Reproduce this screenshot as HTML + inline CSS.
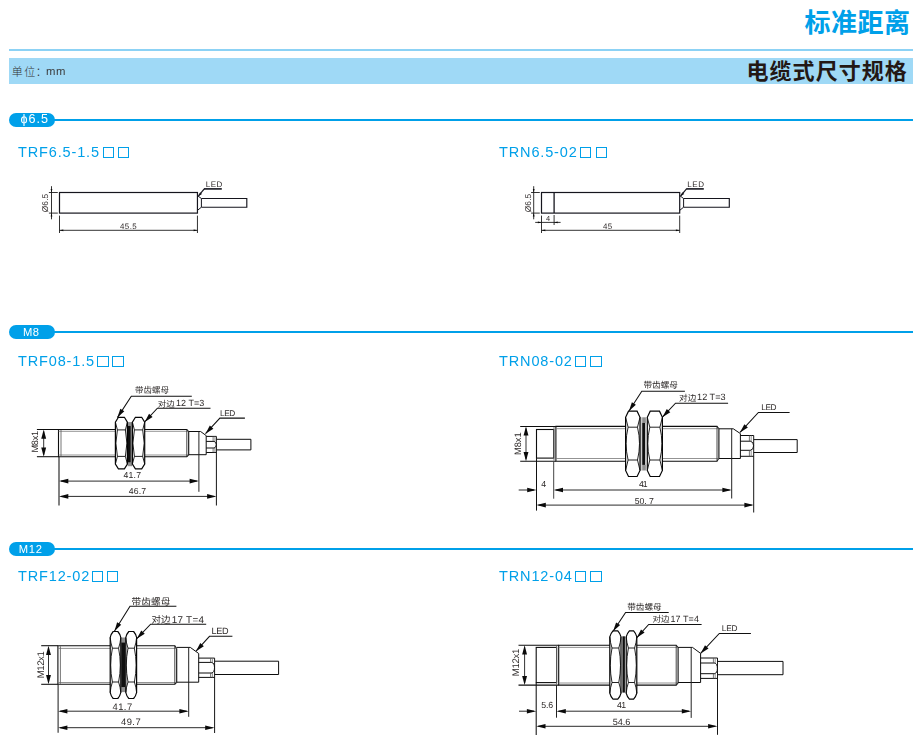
<!DOCTYPE html>
<html lang="zh-CN">
<head>
<meta charset="utf-8">
<title>标准距离 电缆式尺寸规格</title>
<style>
html,body{margin:0;padding:0;background:#fff}
body{width:921px;height:752px;position:relative;overflow:hidden;font-family:"Liberation Sans",sans-serif;color:#231815}
svg{position:absolute;overflow:visible;display:block}
.dwg{will-change:transform}
.dwg text{text-rendering:geometricPrecision}
.rule{position:absolute;left:9px;width:904px;top:49px;height:2px;background:#8CD2F5}
.band{position:absolute;left:9px;width:904px;top:58px;height:26px;background:#9FD9F6}
.unit-mm{will-change:transform;position:absolute;left:46.4px;top:64.4px;font-size:11.3px;line-height:14px;letter-spacing:.7px;color:#3a3a3a}
.sec{position:absolute;left:9.6px;right:8px;height:14.2px}
.sec::after{content:"";position:absolute;left:40px;right:0;top:6px;height:2px;background:#00A0E9}
.sec b{position:absolute;left:0;top:0;width:46px;height:14.2px;border-radius:7.1px;background:#00A0E9;color:#fff;
  font-weight:normal;font-size:11.2px;line-height:14.4px;text-align:center;letter-spacing:.35px;z-index:1;will-change:transform}
.sec b.phi{font-size:12.6px;line-height:13px;letter-spacing:1.05px;text-indent:5.6px}
.model{position:absolute;height:16px;font-size:14.5px;line-height:16.6px;letter-spacing:.86px;color:#00A0E9;white-space:nowrap;will-change:transform}
.model i{position:absolute;top:2.55px;width:11.4px;height:11.4px;box-sizing:border-box;border:1.1px solid #00A0E9}
</style>
</head>
<body>
<header>
<svg class="cjk" role="img" aria-label="标准距离" style="left:803px;top:7px" width="110" height="30" viewBox="803 7 110 30"><text x="804.5" y="31.5" font-size="26" font-weight="bold" textLength="105.5" lengthAdjust="spacing" font-family="'Liberation Sans', 'Noto Sans CJK SC', sans-serif" fill="#00A0E9">标准距离</text></svg>
<div class="rule"></div>
<div class="band"></div>
<svg class="cjk" role="img" aria-label="单位" style="left:10px;top:64px" width="27" height="16" viewBox="10 64 27 16"><text x="11.8" y="75.7" font-size="11" font-weight="300" textLength="23.5" lengthAdjust="spacing" font-family="'Liberation Sans', 'Noto Sans CJK SC', sans-serif" fill="#333">单位</text></svg><svg class="cjk" aria-hidden="true" style="left:36px;top:71px" width="4" height="6" viewBox="36 71 4 6"><text x="35.8" y="75.7" font-size="11" font-weight="300" font-family="'Liberation Sans', 'Noto Sans CJK SC', sans-serif" fill="#333">：</text></svg><span class="unit-mm">mm</span>
<svg class="cjk" role="img" aria-label="电缆式尺寸规格" style="left:745px;top:59px" width="164" height="25" viewBox="745 59 164 25"><text x="746.5" y="79.3" font-size="22" font-weight="bold" textLength="160.3" lengthAdjust="spacing" font-family="'Liberation Sans', 'Noto Sans CJK SC', sans-serif" fill="#231815">电缆式尺寸规格</text></svg>
</header>
<main>
<section>
<div class="sec" style="top:112.8px;left:9.4px"><b class="phi">&#981;6.5</b></div>
<div class="model" style="left:17.8px;top:144px">TRF6.5-1.5<i style="left:84.8px"></i><i style="left:100.1px"></i></div>
<div class="model" style="left:499.4px;top:144px">TRN6.5-02<i style="left:81.1px"></i><i style="left:96.8px"></i></div>
<svg class="dwg" role="img" aria-label="TRF6.5-1.5 dimension drawing" style="left:25px;top:175px" width="240" height="65" viewBox="25 175 240 65" font-family="Liberation Sans, sans-serif"><rect x="59.5" y="192.5" width="137.95" height="20.6" fill="none" stroke="#15151d" stroke-width="1.2"/><path d="M197.45 195.6 L201.4 198.5 L201.4 207.2 L197.45 210.4" fill="none" stroke="#15151d" stroke-width="1.0" stroke-linejoin="miter"/><path d="M201.4 198.5 L246.8 198.5 L246.8 207.2 L201.4 207.2" fill="none" stroke="#15151d" stroke-width="1.15" stroke-linejoin="miter"/><line x1="204" y1="188.9" x2="221.8" y2="188.9" stroke="#15151d" stroke-width="1.6"/><line x1="198.45" y1="195.9" x2="204.3" y2="188.9" stroke="#15151d" stroke-width="1.2"/><path d="M198.05 196.4 L200.08 192.29 L201.99 194.05 Z" fill="#15151d"/><text x="205.7" y="186.9" font-size="8" textLength="16.7" lengthAdjust="spacing" fill="#2f2a2a">LED</text><line x1="51.5" y1="186.2" x2="51.5" y2="219.3" stroke="#1c1c1c" stroke-width="0.9"/><line x1="48.9" y1="192.5" x2="57.8" y2="192.5" stroke="#1c1c1c" stroke-width="0.9"/><line x1="48.9" y1="213.1" x2="57.8" y2="213.1" stroke="#1c1c1c" stroke-width="0.9"/><path d="M51.5 192.5 L50.6 189.1 L52.4 189.1 Z" fill="#0a0a0a"/><path d="M51.5 213.1 L52.4 216.5 L50.6 216.5 Z" fill="#0a0a0a"/><text x="48" y="203" font-size="8.4" text-anchor="middle" textLength="18.6" lengthAdjust="spacing" transform="rotate(-90 48 203)" fill="#2f2a2a">&#216;6.5</text><line x1="59.5" y1="215.6" x2="59.5" y2="233" stroke="#1c1c1c" stroke-width="0.9"/><line x1="197.45" y1="215.6" x2="197.45" y2="233" stroke="#1c1c1c" stroke-width="0.9"/><line x1="59.5" y1="230.3" x2="197.45" y2="230.3" stroke="#1c1c1c" stroke-width="0.9"/><path d="M59.5 230.3 L63.3 229.4 L63.3 231.2 Z" fill="#0a0a0a"/><path d="M197.45 230.3 L193.65 231.2 L193.65 229.4 Z" fill="#0a0a0a"/><text x="128.3" y="228.9" font-size="7.9" text-anchor="middle" textLength="16.8" lengthAdjust="spacing" fill="#2f2a2a">45.5</text></svg>
<svg class="dwg" role="img" aria-label="TRN6.5-02 dimension drawing" style="left:510px;top:175px" width="240" height="65" viewBox="510 175 240 65" font-family="Liberation Sans, sans-serif"><rect x="541.5" y="192.5" width="138.2" height="20.6" fill="none" stroke="#15151d" stroke-width="1.2"/><path d="M679.7 195.6 L683.6 198.5 L683.6 207.2 L679.7 210.4" fill="none" stroke="#15151d" stroke-width="1.0" stroke-linejoin="miter"/><path d="M683.6 198.5 L729.3 198.5 L729.3 207.2 L683.6 207.2" fill="none" stroke="#15151d" stroke-width="1.15" stroke-linejoin="miter"/><line x1="686.2" y1="188.9" x2="703.8" y2="188.9" stroke="#15151d" stroke-width="1.6"/><line x1="680.7" y1="195.9" x2="686.5" y2="188.9" stroke="#15151d" stroke-width="1.2"/><path d="M680.3 196.4 L682.32 192.28 L684.23 194.04 Z" fill="#15151d"/><text x="687.3" y="186.9" font-size="8" textLength="16.7" lengthAdjust="spacing" fill="#2f2a2a">LED</text><line x1="533.7" y1="186.2" x2="533.7" y2="219.3" stroke="#1c1c1c" stroke-width="0.9"/><line x1="531.1" y1="192.5" x2="539.8" y2="192.5" stroke="#1c1c1c" stroke-width="0.9"/><line x1="531.1" y1="213.1" x2="539.8" y2="213.1" stroke="#1c1c1c" stroke-width="0.9"/><path d="M533.7 192.5 L532.8 189.1 L534.6 189.1 Z" fill="#0a0a0a"/><path d="M533.7 213.1 L534.6 216.5 L532.8 216.5 Z" fill="#0a0a0a"/><text x="530.6" y="203" font-size="8.4" text-anchor="middle" textLength="18.6" lengthAdjust="spacing" transform="rotate(-90 530.6 203)" fill="#2f2a2a">&#216;6.5</text><line x1="541.5" y1="215.6" x2="541.5" y2="233" stroke="#1c1c1c" stroke-width="0.9"/><line x1="679.7" y1="215.6" x2="679.7" y2="233" stroke="#1c1c1c" stroke-width="0.9"/><line x1="541.5" y1="230.3" x2="679.7" y2="230.3" stroke="#1c1c1c" stroke-width="0.9"/><path d="M541.5 230.3 L545.3 229.4 L545.3 231.2 Z" fill="#0a0a0a"/><path d="M679.7 230.3 L675.9 231.2 L675.9 229.4 Z" fill="#0a0a0a"/><text x="607.6" y="228.9" font-size="7.9" text-anchor="middle" textLength="9" lengthAdjust="spacing" fill="#2f2a2a">45</text><line x1="554.1" y1="192.5" x2="554.1" y2="213.1" stroke="#15151d" stroke-width="1.3"/><line x1="554.1" y1="215" x2="554.1" y2="225" stroke="#1c1c1c" stroke-width="0.9"/><line x1="535.2" y1="222.4" x2="560.6" y2="222.4" stroke="#1c1c1c" stroke-width="0.9"/><path d="M541.5 222.4 L537.9 223.3 L537.9 221.5 Z" fill="#0a0a0a"/><path d="M554.1 222.4 L557.7 221.5 L557.7 223.3 Z" fill="#0a0a0a"/><text x="548.1" y="221.4" font-size="7.4" text-anchor="middle" fill="#2f2a2a">4</text></svg>
</section>
<section>
<div class="sec" style="top:324.8px;left:9.2px"><b style="text-indent:-1.8px">M8</b></div>
<div class="model" style="left:18px;top:353px">TRF08-1.5<i style="left:79.3px"></i><i style="left:94.4px"></i></div>
<div class="model" style="left:499.2px;top:353px">TRN08-02<i style="left:75.9px"></i><i style="left:91.4px"></i></div>
<svg class="dwg" role="img" aria-label="TRF08-1.5 dimension drawing" style="left:25px;top:380px" width="240" height="130" viewBox="25 380 240 130" font-family="Liberation Sans, sans-serif"><line x1="36.9" y1="429.5" x2="58.5" y2="429.5" stroke="#0d0d0d" stroke-width="1.05"/><line x1="36.9" y1="456.7" x2="58.5" y2="456.7" stroke="#0d0d0d" stroke-width="1.05"/><path d="M58.5 429.5 L186.8 429.5 L188.7 431.6 L188.7 454.7 L186.8 456.7 L58.5 456.7 Z" fill="none" stroke="#0d0d0d" stroke-width="1.1" stroke-linejoin="miter"/><line x1="58.5" y1="431.3" x2="188.7" y2="431.3" stroke="#777" stroke-width="0.8"/><line x1="58.5" y1="455" x2="188.7" y2="455" stroke="#777" stroke-width="0.8"/><line x1="61" y1="430" x2="61" y2="456.2" stroke="#666" stroke-width="0.9"/><line x1="186.8" y1="429.5" x2="186.8" y2="456.7" stroke="#333" stroke-width="0.9"/><path d="M188.7 431.5 L200.6 431.5 L206.2 435.6 L206.2 454.7 L188.7 454.7" fill="none" stroke="#0d0d0d" stroke-width="1.0" stroke-linejoin="miter"/><line x1="206.2" y1="436.4" x2="216.4" y2="436.4" stroke="#0d0d0d" stroke-width="1.0"/><line x1="206.2" y1="452.5" x2="216.4" y2="452.5" stroke="#0d0d0d" stroke-width="1.0"/><line x1="206.2" y1="441.4" x2="214.3" y2="441.4" stroke="#0d0d0d" stroke-width="1.0"/><line x1="206.2" y1="448" x2="214.3" y2="448" stroke="#0d0d0d" stroke-width="1.0"/><line x1="213.1" y1="436.4" x2="213.1" y2="441.4" stroke="#555" stroke-width="0.8"/><line x1="213.1" y1="448" x2="213.1" y2="452.5" stroke="#555" stroke-width="0.8"/><line x1="214.9" y1="436.4" x2="214.9" y2="441.4" stroke="#777" stroke-width="0.8"/><line x1="214.9" y1="448" x2="214.9" y2="452.5" stroke="#777" stroke-width="0.8"/><path d="M214.1 441.4 Q216.3 442 216.3 444.7 Q216.3 447.4 214.1 448" fill="none" stroke="#0d0d0d" stroke-width="1.0"/><path d="M216.4 439.3 L250.9 439.3 L250.9 449.9 L216.4 449.9" fill="none" stroke="#0d0d0d" stroke-width="1.0" stroke-linejoin="miter"/><line x1="198.9" y1="431.5" x2="198.9" y2="491.8" stroke="#222" stroke-width="1.0"/><line x1="216.4" y1="436.4" x2="216.4" y2="505.5" stroke="#161616" stroke-width="1.0"/><rect x="127.4" y="422.1" width="5" height="44.1" fill="#fff"/><rect x="127.8" y="422.1" width="3.6" height="3.7" fill="#8f8f8f"/><rect x="127.8" y="462.5" width="3.6" height="3.7" fill="#8f8f8f"/><rect x="127.8" y="425.8" width="3" height="36.7" fill="#101010"/><line x1="131.6" y1="422.1" x2="131.6" y2="466.2" stroke="#555" stroke-width="0.7"/><path d="M118.4 417.3 L124.4 417.3 L127.4 422.1 L127.4 464 L124.4 468.8 L118.4 468.8 L115.4 464 L115.4 422.1 Z" fill="#fff" stroke="#050505" stroke-width="1.2" stroke-linejoin="miter"/><path d="M115.4 422.1 L117.4 429.9 L125.4 429.9 L127.4 422.1" fill="none" stroke="#0a0a0a" stroke-width="0.9" stroke-linejoin="miter"/><path d="M115.4 464 L117.4 456.4 L125.4 456.4 L127.4 464" fill="none" stroke="#0a0a0a" stroke-width="0.9" stroke-linejoin="miter"/><path d="M117.4 429.9 Q114.4 443.15 117.4 456.4" fill="none" stroke="#0a0a0a" stroke-width="0.9"/><path d="M125.4 429.9 Q128.4 443.15 125.4 456.4" fill="none" stroke="#0a0a0a" stroke-width="0.9"/><path d="M135.4 417.3 L141.7 417.3 L144.7 422.1 L144.7 464 L141.7 468.8 L135.4 468.8 L132.4 464 L132.4 422.1 Z" fill="#fff" stroke="#050505" stroke-width="1.2" stroke-linejoin="miter"/><path d="M132.4 422.1 L134.4 429.9 L142.7 429.9 L144.7 422.1" fill="none" stroke="#0a0a0a" stroke-width="0.9" stroke-linejoin="miter"/><path d="M132.4 464 L134.4 456.4 L142.7 456.4 L144.7 464" fill="none" stroke="#0a0a0a" stroke-width="0.9" stroke-linejoin="miter"/><path d="M134.4 429.9 Q131.4 443.15 134.4 456.4" fill="none" stroke="#0a0a0a" stroke-width="0.9"/><path d="M142.7 429.9 Q145.7 443.15 142.7 456.4" fill="none" stroke="#0a0a0a" stroke-width="0.9"/><path d="M117.4 417.6 L131.3 396.3 L191.8 396.3" fill="none" stroke="#111" stroke-width="1.05" stroke-linejoin="miter"/><path d="M117.4 417.6 L120.31 408.75 L124.33 411.37 Z" fill="#0a0a0a"/><path d="M144.7 421.9 L157.4 408.2 L210.5 408.2" fill="none" stroke="#111" stroke-width="1.05" stroke-linejoin="miter"/><path d="M144.7 421.9 L149.06 413.67 L152.58 416.93 Z" fill="#0a0a0a"/><path d="M205.5 433.7 L219.9 418.1 L244.9 418.1" fill="none" stroke="#111" stroke-width="1.05" stroke-linejoin="miter"/><path d="M205.5 433.7 L209.84 425.46 L213.37 428.71 Z" fill="#0a0a0a"/><text x="135" y="392.9" font-size="8.5" textLength="34" lengthAdjust="spacing" font-family="'Liberation Sans', 'Noto Sans CJK SC', sans-serif" fill="#2d2928">带齿螺母</text><text x="157.8" y="406.6" font-size="8.5" textLength="17" lengthAdjust="spacing" font-family="'Liberation Sans', 'Noto Sans CJK SC', sans-serif" fill="#2d2928">对边</text><text x="176" y="406.35" font-size="8.97" textLength="28.3" lengthAdjust="spacing" fill="#2d2928">12 T=3</text><text x="219.9" y="416.3" font-size="8.3" textLength="15.4" lengthAdjust="spacing" fill="#2d2928">LED</text><line x1="43.7" y1="431.5" x2="43.7" y2="454.7" stroke="#333" stroke-width="1.0"/><path d="M43.7 429.5 L46.15 438.7 L41.25 438.7 Z" fill="#0a0a0a"/><path d="M43.7 456.7 L41.25 447.5 L46.15 447.5 Z" fill="#0a0a0a"/><text x="38.4" y="441.7" font-size="9.2" text-anchor="middle" textLength="21.8" lengthAdjust="spacing" transform="rotate(-90 38.4 441.7)" fill="#2d2928">M8x1</text><line x1="59" y1="456.7" x2="59" y2="505.5" stroke="#111" stroke-width="1.05"/><line x1="61" y1="481.1" x2="196.9" y2="481.1" stroke="#2b2b2b" stroke-width="1.0"/><path d="M59 481.1 L68.3 478.8 L68.3 483.4 Z" fill="#0a0a0a"/><path d="M198.9 481.1 L189.6 483.4 L189.6 478.8 Z" fill="#0a0a0a"/><line x1="61" y1="496.4" x2="214.4" y2="496.4" stroke="#2b2b2b" stroke-width="1.0"/><path d="M59 496.4 L68.3 494.1 L68.3 498.7 Z" fill="#0a0a0a"/><path d="M216.4 496.4 L207.1 498.7 L207.1 494.1 Z" fill="#0a0a0a"/><text x="132.3" y="478.1" font-size="8.7" text-anchor="middle" textLength="17.5" lengthAdjust="spacing" fill="#2d2928">41.7</text><text x="137.4" y="493.7" font-size="8.7" text-anchor="middle" textLength="17.5" lengthAdjust="spacing" fill="#2d2928">46.7</text></svg>
<svg class="dwg" role="img" aria-label="TRN08-02 dimension drawing" style="left:505px;top:375px" width="300" height="142" viewBox="505 375 300 142" font-family="Liberation Sans, sans-serif"><line x1="520.2" y1="426.4" x2="555.9" y2="426.4" stroke="#0d0d0d" stroke-width="1.05"/><line x1="520.2" y1="461.2" x2="555.9" y2="461.2" stroke="#0d0d0d" stroke-width="1.05"/><rect x="536.5" y="429.5" width="17.2" height="28.6" fill="none" stroke="#0d0d0d" stroke-width="1.1"/><path d="M555.9 426.4 L717 426.4 L718.9 429 L718.9 458.2 L717 461.2 L555.9 461.2 Z" fill="none" stroke="#0d0d0d" stroke-width="1.1" stroke-linejoin="miter"/><line x1="555.9" y1="428.7" x2="718.9" y2="428.7" stroke="#777" stroke-width="0.8"/><line x1="555.9" y1="458.5" x2="718.9" y2="458.5" stroke="#777" stroke-width="0.8"/><line x1="554" y1="426.9" x2="554" y2="460.7" stroke="#666" stroke-width="0.9"/><line x1="717" y1="426.4" x2="717" y2="461.2" stroke="#333" stroke-width="0.9"/><path d="M718.9 428.8 L733.3 428.8 L740.4 433.6 L740.4 458.5 L718.9 458.5" fill="none" stroke="#0d0d0d" stroke-width="1.0" stroke-linejoin="miter"/><line x1="740.4" y1="435.5" x2="753.7" y2="435.5" stroke="#0d0d0d" stroke-width="1.0"/><line x1="740.4" y1="456.3" x2="753.7" y2="456.3" stroke="#0d0d0d" stroke-width="1.0"/><line x1="740.4" y1="441.2" x2="750.6" y2="441.2" stroke="#0d0d0d" stroke-width="1.0"/><line x1="740.4" y1="450.3" x2="750.6" y2="450.3" stroke="#0d0d0d" stroke-width="1.0"/><line x1="749.4" y1="435.5" x2="749.4" y2="441.2" stroke="#555" stroke-width="0.8"/><line x1="749.4" y1="450.3" x2="749.4" y2="456.3" stroke="#555" stroke-width="0.8"/><line x1="751.2" y1="435.5" x2="751.2" y2="441.2" stroke="#777" stroke-width="0.8"/><line x1="751.2" y1="450.3" x2="751.2" y2="456.3" stroke="#777" stroke-width="0.8"/><path d="M750.4 441.2 Q753.6 441.8 753.6 445.75 Q753.6 449.7 750.4 450.3" fill="none" stroke="#0d0d0d" stroke-width="1.0"/><path d="M753.7 439.6 L797.2 439.6 L797.2 452.5 L753.7 452.5" fill="none" stroke="#0d0d0d" stroke-width="1.0" stroke-linejoin="miter"/><line x1="731.7" y1="428.8" x2="731.7" y2="498.5" stroke="#222" stroke-width="1.0"/><line x1="753.7" y1="435.5" x2="753.7" y2="512.5" stroke="#161616" stroke-width="1.0"/><rect x="640" y="417.3" width="7.3" height="53.2" fill="#fff"/><rect x="642.19" y="417.3" width="3.67" height="5.6" fill="#8f8f8f"/><rect x="642.19" y="464.9" width="3.67" height="5.6" fill="#8f8f8f"/><rect x="642.19" y="422.9" width="3.07" height="42" fill="#101010"/><line x1="640.95" y1="417.3" x2="640.95" y2="470.5" stroke="#555" stroke-width="0.7"/><path d="M628.5 411.2 L637.1 411.2 L640 417.3 L640 470.4 L637.1 476.5 L628.5 476.5 L625.6 470.4 L625.6 417.3 Z" fill="#fff" stroke="#050505" stroke-width="1.2" stroke-linejoin="miter"/><path d="M625.6 417.3 L628.1 427.2 L637.5 427.2 L640 417.3" fill="none" stroke="#0a0a0a" stroke-width="0.9" stroke-linejoin="miter"/><path d="M625.6 470.4 L628.1 460 L637.5 460 L640 470.4" fill="none" stroke="#0a0a0a" stroke-width="0.9" stroke-linejoin="miter"/><path d="M628.1 427.2 Q624.1 443.6 628.1 460" fill="none" stroke="#0a0a0a" stroke-width="0.9"/><path d="M637.5 427.2 Q641.5 443.6 637.5 460" fill="none" stroke="#0a0a0a" stroke-width="0.9"/><path d="M650.2 411.2 L659.5 411.2 L662.4 417.3 L662.4 470.4 L659.5 476.5 L650.2 476.5 L647.3 470.4 L647.3 417.3 Z" fill="#fff" stroke="#050505" stroke-width="1.2" stroke-linejoin="miter"/><path d="M647.3 417.3 L649.8 427.2 L659.9 427.2 L662.4 417.3" fill="none" stroke="#0a0a0a" stroke-width="0.9" stroke-linejoin="miter"/><path d="M647.3 470.4 L649.8 460 L659.9 460 L662.4 470.4" fill="none" stroke="#0a0a0a" stroke-width="0.9" stroke-linejoin="miter"/><path d="M649.8 427.2 Q645.8 443.6 649.8 460" fill="none" stroke="#0a0a0a" stroke-width="0.9"/><path d="M659.9 427.2 Q663.9 443.6 659.9 460" fill="none" stroke="#0a0a0a" stroke-width="0.9"/><path d="M629 411 L641.8 391.2 L684.9 391.2" fill="none" stroke="#111" stroke-width="1.05" stroke-linejoin="miter"/><path d="M629 411 L631.87 402.14 L635.9 404.74 Z" fill="#0a0a0a"/><path d="M662.4 417.2 L675.5 403.2 L728.1 403.2" fill="none" stroke="#111" stroke-width="1.05" stroke-linejoin="miter"/><path d="M662.4 417.2 L666.8 408.99 L670.3 412.27 Z" fill="#0a0a0a"/><path d="M740 432.4 L758.4 412.5 L789.6 412.5" fill="none" stroke="#111" stroke-width="1.05" stroke-linejoin="miter"/><path d="M740 432.4 L744.35 424.16 L747.87 427.42 Z" fill="#0a0a0a"/><text x="643.5" y="388.4" font-size="8.6" textLength="34.3" lengthAdjust="spacing" font-family="'Liberation Sans', 'Noto Sans CJK SC', sans-serif" fill="#2d2928">带齿螺母</text><text x="679.1" y="400.8" font-size="8.6" textLength="17.3" lengthAdjust="spacing" font-family="'Liberation Sans', 'Noto Sans CJK SC', sans-serif" fill="#2d2928">对边</text><text x="697.1" y="400.45" font-size="9.13" textLength="28.5" lengthAdjust="spacing" fill="#2d2928">12 T=3</text><text x="761.2" y="410.1" font-size="8.3" textLength="15.4" lengthAdjust="spacing" fill="#2d2928">LED</text><line x1="526" y1="428.4" x2="526" y2="459.2" stroke="#333" stroke-width="1.0"/><path d="M526 426.4 L528.45 435.6 L523.55 435.6 Z" fill="#0a0a0a"/><path d="M526 461.2 L523.55 452 L528.45 452 Z" fill="#0a0a0a"/><text x="521.5" y="443.7" font-size="9.3" text-anchor="middle" textLength="22.5" lengthAdjust="spacing" transform="rotate(-90 521.5 443.7)" fill="#2d2928">M8x1</text><line x1="536.5" y1="458.1" x2="536.5" y2="510.6" stroke="#111" stroke-width="1.05"/><line x1="553.7" y1="461.3" x2="553.7" y2="498.7" stroke="#444" stroke-width="1.0"/><line x1="518.7" y1="490" x2="534" y2="490" stroke="#2b2b2b" stroke-width="1.0"/><path d="M536.5 490 L527.2 492.3 L527.2 487.7 Z" fill="#0a0a0a"/><line x1="555.7" y1="490" x2="729.7" y2="490" stroke="#2b2b2b" stroke-width="1.0"/><path d="M553.7 490 L563 487.7 L563 492.3 Z" fill="#0a0a0a"/><path d="M731.7 490 L722.4 492.3 L722.4 487.7 Z" fill="#0a0a0a"/><line x1="538.5" y1="505.1" x2="751.7" y2="505.1" stroke="#2b2b2b" stroke-width="1.0"/><path d="M536.5 505.1 L545.8 502.8 L545.8 507.4 Z" fill="#0a0a0a"/><path d="M753.7 505.1 L744.4 507.4 L744.4 502.8 Z" fill="#0a0a0a"/><text x="543.7" y="487.2" font-size="8.8" text-anchor="middle" fill="#2d2928">4</text><text x="643.2" y="486.8" font-size="8.7" text-anchor="middle" textLength="8.6" lengthAdjust="spacing" fill="#2d2928">41</text><text x="644.3" y="503.7" font-size="8.7" text-anchor="middle" textLength="19.3" lengthAdjust="spacing" fill="#2d2928">50. 7</text></svg>
</section>
<section>
<div class="sec" style="top:541.8px;left:9.2px"><b style="text-indent:-2.4px;letter-spacing:.8px">M12</b></div>
<div class="model" style="left:18px;top:568px">TRF12-02<i style="left:73.7px"></i><i style="left:89.0px"></i></div>
<div class="model" style="left:499.2px;top:568px">TRN12-04<i style="left:75.9px"></i><i style="left:91.4px"></i></div>
<svg class="dwg" role="img" aria-label="TRF12-02 dimension drawing" style="left:25px;top:590px" width="260" height="150" viewBox="25 590 260 150" font-family="Liberation Sans, sans-serif"><line x1="41.2" y1="645.7" x2="57.9" y2="645.7" stroke="#0d0d0d" stroke-width="1.05"/><line x1="41.2" y1="684.3" x2="57.9" y2="684.3" stroke="#0d0d0d" stroke-width="1.05"/><path d="M57.9 645.7 L174.8 645.7 L176.7 648.7 L176.7 682.2 L174.8 684.3 L57.9 684.3 Z" fill="none" stroke="#0d0d0d" stroke-width="1.1" stroke-linejoin="miter"/><line x1="57.9" y1="648.4" x2="176.7" y2="648.4" stroke="#777" stroke-width="0.8"/><line x1="57.9" y1="682.5" x2="176.7" y2="682.5" stroke="#777" stroke-width="0.8"/><line x1="60.4" y1="646.2" x2="60.4" y2="683.8" stroke="#666" stroke-width="0.9"/><line x1="174.8" y1="645.7" x2="174.8" y2="684.3" stroke="#333" stroke-width="0.9"/><path d="M176.7 647.4 L190.3 647.4 L198.7 653.5 L198.7 682.2 L176.7 682.2" fill="none" stroke="#0d0d0d" stroke-width="1.0" stroke-linejoin="miter"/><line x1="198.7" y1="658.1" x2="214.6" y2="658.1" stroke="#0d0d0d" stroke-width="1.0"/><line x1="198.7" y1="677.4" x2="214.6" y2="677.4" stroke="#0d0d0d" stroke-width="1.0"/><line x1="198.7" y1="662.4" x2="211.8" y2="662.4" stroke="#0d0d0d" stroke-width="1.0"/><line x1="198.7" y1="673" x2="211.8" y2="673" stroke="#0d0d0d" stroke-width="1.0"/><line x1="210.6" y1="658.1" x2="210.6" y2="662.4" stroke="#555" stroke-width="0.8"/><line x1="210.6" y1="673" x2="210.6" y2="677.4" stroke="#555" stroke-width="0.8"/><line x1="212.4" y1="658.1" x2="212.4" y2="662.4" stroke="#777" stroke-width="0.8"/><line x1="212.4" y1="673" x2="212.4" y2="677.4" stroke="#777" stroke-width="0.8"/><path d="M211.6 662.4 Q214.5 663 214.5 667.7 Q214.5 672.4 211.6 673" fill="none" stroke="#0d0d0d" stroke-width="1.0"/><path d="M214.6 661.2 L278.6 661.2 L278.6 674.5 L214.6 674.5" fill="none" stroke="#0d0d0d" stroke-width="1.0" stroke-linejoin="miter"/><line x1="188.7" y1="647.4" x2="188.7" y2="716.8" stroke="#222" stroke-width="1.0"/><line x1="214.6" y1="658.1" x2="214.6" y2="733" stroke="#161616" stroke-width="1.0"/><rect x="120.8" y="637.5" width="5" height="54.6" fill="#fff"/><rect x="121.2" y="637.5" width="4.7" height="4.9" fill="#8f8f8f"/><rect x="121.2" y="687.2" width="4.7" height="4.9" fill="#8f8f8f"/><rect x="121.2" y="642.4" width="4.1" height="44.8" fill="#101010"/><path d="M110.2 637.5 Q110.9 634.1 113.2 631.5 L117.8 631.5 Q120.1 634.1 120.8 637.5 L120.8 692.5 Q120.1 695.9 117.8 698.5 L113.2 698.5 Q110.9 695.9 110.2 692.5 Z" fill="#fff" stroke="#050505" stroke-width="1.2"/><path d="M110.2 637.5 Q110.61 642.99 112.4 648.2 L118.6 648.2 Q120.39 642.99 120.8 637.5" fill="none" stroke="#0a0a0a" stroke-width="0.9"/><path d="M110.2 692.5 Q110.61 687.11 112.4 682 L118.6 682 Q120.39 687.11 120.8 692.5" fill="none" stroke="#0a0a0a" stroke-width="0.9"/><path d="M112.4 648.2 Q109 665.1 112.4 682" fill="none" stroke="#0a0a0a" stroke-width="0.9"/><path d="M118.6 648.2 Q122 665.1 118.6 682" fill="none" stroke="#0a0a0a" stroke-width="0.9"/><path d="M125.8 637.5 Q126.5 634.1 128.8 631.5 L133.6 631.5 Q135.9 634.1 136.6 637.5 L136.6 692.5 Q135.9 695.9 133.6 698.5 L128.8 698.5 Q126.5 695.9 125.8 692.5 Z" fill="#fff" stroke="#050505" stroke-width="1.2"/><path d="M125.8 637.5 Q126.21 642.99 128 648.2 L134.4 648.2 Q136.19 642.99 136.6 637.5" fill="none" stroke="#0a0a0a" stroke-width="0.9"/><path d="M125.8 692.5 Q126.21 687.11 128 682 L134.4 682 Q136.19 687.11 136.6 692.5" fill="none" stroke="#0a0a0a" stroke-width="0.9"/><path d="M128 648.2 Q124.6 665.1 128 682" fill="none" stroke="#0a0a0a" stroke-width="0.9"/><path d="M134.4 648.2 Q137.8 665.1 134.4 682" fill="none" stroke="#0a0a0a" stroke-width="0.9"/><path d="M114.4 631.2 L130 606.2 L176.4 606.2" fill="none" stroke="#111" stroke-width="1.05" stroke-linejoin="miter"/><path d="M114.4 631.2 L117.13 622.29 L121.2 624.84 Z" fill="#0a0a0a"/><path d="M136.8 638.7 L150.6 624.2 L206.2 624.2" fill="none" stroke="#111" stroke-width="1.05" stroke-linejoin="miter"/><path d="M136.8 638.7 L141.27 630.53 L144.74 633.84 Z" fill="#0a0a0a"/><path d="M196 651.2 L209.5 636.3 L232.4 636.3" fill="none" stroke="#111" stroke-width="1.05" stroke-linejoin="miter"/><path d="M196 651.2 L200.26 642.92 L203.82 646.14 Z" fill="#0a0a0a"/><text x="131.5" y="604.9" font-size="9.6" textLength="38.8" lengthAdjust="spacing" font-family="'Liberation Sans', 'Noto Sans CJK SC', sans-serif" fill="#2d2928">带齿螺母</text><text x="151.5" y="623" font-size="9.5" textLength="19" lengthAdjust="spacing" font-family="'Liberation Sans', 'Noto Sans CJK SC', sans-serif" fill="#2d2928">对边</text><text x="171.8" y="622.55" font-size="9.84" textLength="32.1" lengthAdjust="spacing" fill="#2d2928">17 T=4</text><text x="211.5" y="634.2" font-size="9.1" textLength="17" lengthAdjust="spacing" fill="#2d2928">LED</text><line x1="48.5" y1="647.7" x2="48.5" y2="682.3" stroke="#333" stroke-width="1.0"/><path d="M48.5 645.7 L50.95 654.9 L46.05 654.9 Z" fill="#0a0a0a"/><path d="M48.5 684.3 L46.05 675.1 L50.95 675.1 Z" fill="#0a0a0a"/><text x="44.4" y="664.7" font-size="9.6" text-anchor="middle" textLength="26.9" lengthAdjust="spacing" transform="rotate(-90 44.4 664.7)" fill="#2d2928">M12x1</text><line x1="58.1" y1="684.3" x2="58.1" y2="732.7" stroke="#222" stroke-width="1.05"/><line x1="60.1" y1="711.2" x2="186.7" y2="711.2" stroke="#2b2b2b" stroke-width="1.0"/><path d="M58.1 711.2 L67.4 708.9 L67.4 713.5 Z" fill="#0a0a0a"/><path d="M188.7 711.2 L179.4 713.5 L179.4 708.9 Z" fill="#0a0a0a"/><line x1="60.1" y1="727.7" x2="212.5" y2="727.7" stroke="#2b2b2b" stroke-width="1.0"/><path d="M58.1 727.7 L67.4 725.4 L67.4 730 Z" fill="#0a0a0a"/><path d="M214.5 727.7 L205.2 730 L205.2 725.4 Z" fill="#0a0a0a"/><text x="122.3" y="709.9" font-size="9.4" text-anchor="middle" textLength="19.7" lengthAdjust="spacing" fill="#2d2928">41.7</text><text x="130.8" y="724.9" font-size="9.4" text-anchor="middle" textLength="19.6" lengthAdjust="spacing" fill="#2d2928">49.7</text></svg>
<svg class="dwg" role="img" aria-label="TRN12-04 dimension drawing" style="left:505px;top:595px" width="300" height="145" viewBox="505 595 300 145" font-family="Liberation Sans, sans-serif"><line x1="518.5" y1="645.3" x2="558.7" y2="645.3" stroke="#0d0d0d" stroke-width="1.05"/><line x1="518.5" y1="685.1" x2="558.7" y2="685.1" stroke="#0d0d0d" stroke-width="1.05"/><rect x="536.2" y="647.4" width="20.4" height="35.2" fill="none" stroke="#0d0d0d" stroke-width="1.1"/><path d="M558.7 645.3 L676.2 645.3 L678.1 647.7 L678.1 682.7 L676.2 685.1 L558.7 685.1 Z" fill="none" stroke="#0d0d0d" stroke-width="1.1" stroke-linejoin="miter"/><line x1="558.7" y1="647.4" x2="678.1" y2="647.4" stroke="#777" stroke-width="0.8"/><line x1="558.7" y1="683" x2="678.1" y2="683" stroke="#777" stroke-width="0.8"/><line x1="556.6" y1="645.8" x2="556.6" y2="684.6" stroke="#666" stroke-width="0.9"/><line x1="676.2" y1="645.3" x2="676.2" y2="685.1" stroke="#333" stroke-width="0.9"/><path d="M678.1 647.4 L692.5 647.4 L700.6 653.4 L700.6 682.5 L678.1 682.5" fill="none" stroke="#0d0d0d" stroke-width="1.0" stroke-linejoin="miter"/><line x1="700.6" y1="658" x2="717.5" y2="658" stroke="#0d0d0d" stroke-width="1.0"/><line x1="700.6" y1="678.4" x2="717.5" y2="678.4" stroke="#0d0d0d" stroke-width="1.0"/><line x1="700.6" y1="663" x2="714.6" y2="663" stroke="#0d0d0d" stroke-width="1.0"/><line x1="700.6" y1="673.7" x2="714.6" y2="673.7" stroke="#0d0d0d" stroke-width="1.0"/><line x1="713.4" y1="658" x2="713.4" y2="663" stroke="#555" stroke-width="0.8"/><line x1="713.4" y1="673.7" x2="713.4" y2="678.4" stroke="#555" stroke-width="0.8"/><line x1="715.2" y1="658" x2="715.2" y2="663" stroke="#777" stroke-width="0.8"/><line x1="715.2" y1="673.7" x2="715.2" y2="678.4" stroke="#777" stroke-width="0.8"/><path d="M714.4 663 Q717.4 663.6 717.4 668.35 Q717.4 673.1 714.4 673.7" fill="none" stroke="#0d0d0d" stroke-width="1.0"/><path d="M717.5 661.4 L783 661.4 L783 674.7 L717.5 674.7" fill="none" stroke="#0d0d0d" stroke-width="1.0" stroke-linejoin="miter"/><line x1="691.2" y1="647.4" x2="691.2" y2="717.9" stroke="#222" stroke-width="1.0"/><line x1="717.5" y1="658" x2="717.5" y2="734.8" stroke="#161616" stroke-width="1.0"/><rect x="621" y="636.3" width="5.2" height="56.3" fill="#fff"/><rect x="622.4" y="636.3" width="2.5" height="56.3" fill="#101010"/><path d="M609.8 636.8 Q610.61 633.38 613 630.8 L617.8 630.8 Q620.19 633.38 621 636.8 L621 693.2 Q620.19 696.62 617.8 699.2 L613 699.2 Q610.61 696.62 609.8 693.2 Z" fill="#fff" stroke="#050505" stroke-width="1.2"/><path d="M609.8 636.8 Q610.21 642.53 612 648 L618.8 648 Q620.59 642.53 621 636.8" fill="none" stroke="#0a0a0a" stroke-width="0.9"/><path d="M609.8 693.2 Q610.21 687.71 612 682.5 L618.8 682.5 Q620.59 687.71 621 693.2" fill="none" stroke="#0a0a0a" stroke-width="0.9"/><path d="M612 648 Q608.6 665.25 612 682.5" fill="none" stroke="#0a0a0a" stroke-width="0.9"/><path d="M618.8 648 Q622.2 665.25 618.8 682.5" fill="none" stroke="#0a0a0a" stroke-width="0.9"/><path d="M626.2 636.8 Q627.01 633.38 629.4 630.8 L633.6 630.8 Q635.99 633.38 636.8 636.8 L636.8 693.2 Q635.99 696.62 633.6 699.2 L629.4 699.2 Q627.01 696.62 626.2 693.2 Z" fill="#fff" stroke="#050505" stroke-width="1.2"/><path d="M626.2 636.8 Q626.61 642.53 628.4 648 L634.6 648 Q636.39 642.53 636.8 636.8" fill="none" stroke="#0a0a0a" stroke-width="0.9"/><path d="M626.2 693.2 Q626.61 687.71 628.4 682.5 L634.6 682.5 Q636.39 687.71 636.8 693.2" fill="none" stroke="#0a0a0a" stroke-width="0.9"/><path d="M628.4 648 Q625 665.25 628.4 682.5" fill="none" stroke="#0a0a0a" stroke-width="0.9"/><path d="M634.6 648 Q638 665.25 634.6 682.5" fill="none" stroke="#0a0a0a" stroke-width="0.9"/><path d="M613.1 631.2 L625.6 612.5 L668.7 612.5" fill="none" stroke="#111" stroke-width="1.05" stroke-linejoin="miter"/><path d="M613.1 631.2 L616.11 622.38 L620.1 625.05 Z" fill="#0a0a0a"/><path d="M636.8 637.7 L648.7 624.4 L701.6 624.4" fill="none" stroke="#111" stroke-width="1.05" stroke-linejoin="miter"/><path d="M636.8 637.7 L641.01 629.39 L644.59 632.59 Z" fill="#0a0a0a"/><path d="M700.6 653.4 L719.3 633.5 L750.9 633.5" fill="none" stroke="#111" stroke-width="1.05" stroke-linejoin="miter"/><path d="M700.6 653.4 L705.01 645.2 L708.51 648.48 Z" fill="#0a0a0a"/><text x="627.3" y="609.6" font-size="8.6" textLength="34.3" lengthAdjust="spacing" font-family="'Liberation Sans', 'Noto Sans CJK SC', sans-serif" fill="#2d2928">带齿螺母</text><text x="652.5" y="622.2" font-size="8.5" textLength="17" lengthAdjust="spacing" font-family="'Liberation Sans', 'Noto Sans CJK SC', sans-serif" fill="#2d2928">对边</text><text x="670.5" y="621.65" font-size="8.97" textLength="28.4" lengthAdjust="spacing" fill="#2d2928">17 T=4</text><text x="721.8" y="631.4" font-size="8.3" textLength="15.6" lengthAdjust="spacing" fill="#2d2928">LED</text><line x1="524.6" y1="647.3" x2="524.6" y2="683.1" stroke="#333" stroke-width="1.0"/><path d="M524.6 645.3 L527.05 654.5 L522.15 654.5 Z" fill="#0a0a0a"/><path d="M524.6 685.1 L522.15 675.9 L527.05 675.9 Z" fill="#0a0a0a"/><text x="519.4" y="662.5" font-size="9.6" text-anchor="middle" textLength="27.5" lengthAdjust="spacing" transform="rotate(-90 519.4 662.5)" fill="#2d2928">M12x1</text><line x1="536.2" y1="682.6" x2="536.2" y2="734.9" stroke="#111" stroke-width="1.05"/><line x1="556.5" y1="685" x2="556.5" y2="717.7" stroke="#222" stroke-width="1.0"/><line x1="519" y1="711.2" x2="534" y2="711.2" stroke="#2b2b2b" stroke-width="1.0"/><path d="M536.2 711.2 L526.9 713.5 L526.9 708.9 Z" fill="#0a0a0a"/><line x1="558.5" y1="711.2" x2="689.1" y2="711.2" stroke="#2b2b2b" stroke-width="1.0"/><path d="M556.5 711.2 L565.8 708.9 L565.8 713.5 Z" fill="#0a0a0a"/><path d="M691.1 711.2 L681.8 713.5 L681.8 708.9 Z" fill="#0a0a0a"/><line x1="538.2" y1="726.3" x2="715.4" y2="726.3" stroke="#2b2b2b" stroke-width="1.0"/><path d="M536.2 726.3 L545.5 724 L545.5 728.6 Z" fill="#0a0a0a"/><path d="M717.4 726.3 L708.1 728.6 L708.1 724 Z" fill="#0a0a0a"/><text x="547.2" y="708.4" font-size="8.8" text-anchor="middle" textLength="11.9" lengthAdjust="spacing" fill="#2d2928">5.6</text><text x="621.5" y="708.3" font-size="8.7" text-anchor="middle" textLength="9.2" lengthAdjust="spacing" fill="#2d2928">41</text><text x="621.5" y="724.9" font-size="9.1" text-anchor="middle" textLength="17.6" lengthAdjust="spacing" fill="#2d2928">54.6</text></svg>
</section>
</main>
</body>
</html>
